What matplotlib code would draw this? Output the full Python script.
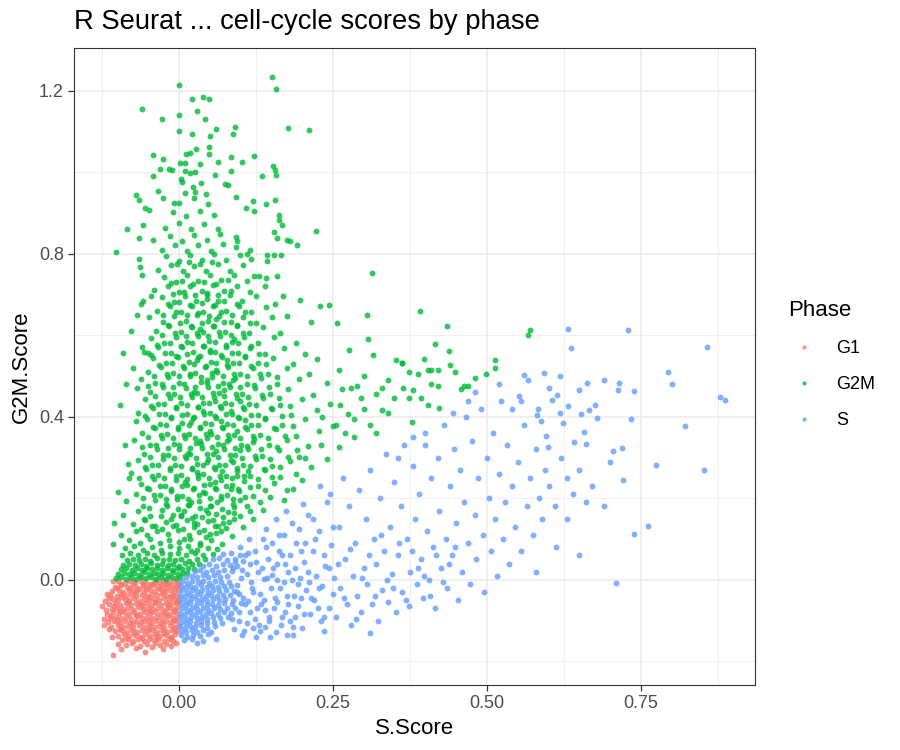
import matplotlib
matplotlib.use("Agg")
import matplotlib.pyplot as plt
from matplotlib.lines import Line2D
import numpy as np

plt.rcParams['font.family'] = ['Liberation Sans', 'DejaVu Sans']

# ---- data ----
phases = ["G1", "G2M", "S"]
phase_colors = {"G1": "#F8766D", "G2M": "#00BA38", "S": "#619CFF"}

g1_points = [
    (-0.098,-0.004),(-0.087,-0.008),(-0.079,-0.002),(-0.071,-0.007),(-0.062,-0.003),(-0.055,-0.006),(-0.047,-0.009),(-0.039,-0.002),(-0.031,-0.006),(-0.024,-0.003),(-0.016,-0.008),(-0.009,-0.004),(-0.003,-0.006),(-0.107,-0.003),
    (-0.104,-0.017),(-0.093,-0.013),(-0.084,-0.018),(-0.075,-0.012),(-0.067,-0.019),(-0.058,-0.014),(-0.050,-0.017),(-0.043,-0.012),(-0.035,-0.016),(-0.027,-0.013),(-0.020,-0.018),(-0.012,-0.014),(-0.005,-0.016),(-0.002,-0.011),
    (-0.108,-0.028),(-0.097,-0.024),(-0.090,-0.030),(-0.081,-0.025),(-0.072,-0.027),(-0.064,-0.023),(-0.056,-0.029),(-0.046,-0.025),(-0.038,-0.028),(-0.030,-0.023),(-0.022,-0.027),(-0.014,-0.024),(-0.007,-0.029),(-0.002,-0.025),
    (-0.111,-0.036),(-0.101,-0.039),(-0.094,-0.035),(-0.085,-0.038),(-0.077,-0.034),(-0.069,-0.040),(-0.060,-0.036),(-0.052,-0.039),(-0.044,-0.034),(-0.036,-0.038),(-0.028,-0.035),(-0.019,-0.040),(-0.011,-0.036),(-0.004,-0.039),
    (-0.106,-0.047),(-0.098,-0.050),(-0.088,-0.046),(-0.080,-0.049),(-0.073,-0.045),(-0.065,-0.051),(-0.057,-0.047),(-0.048,-0.050),(-0.041,-0.046),(-0.032,-0.049),(-0.024,-0.045),(-0.016,-0.051),(-0.008,-0.047),(-0.002,-0.050),
    (-0.114,-0.060),(-0.103,-0.057),(-0.095,-0.061),(-0.086,-0.058),(-0.078,-0.062),(-0.070,-0.056),(-0.061,-0.060),(-0.053,-0.057),(-0.045,-0.062),(-0.037,-0.058),(-0.029,-0.061),(-0.021,-0.056),(-0.013,-0.060),(-0.005,-0.058),
    (-0.109,-0.071),(-0.100,-0.068),(-0.091,-0.072),(-0.083,-0.069),(-0.075,-0.073),(-0.066,-0.067),(-0.058,-0.071),(-0.050,-0.068),(-0.042,-0.072),(-0.033,-0.069),(-0.025,-0.073),(-0.017,-0.068),(-0.010,-0.071),(-0.003,-0.069),
    (-0.117,-0.083),(-0.106,-0.079),(-0.097,-0.082),(-0.089,-0.078),(-0.081,-0.083),(-0.072,-0.080),(-0.063,-0.084),(-0.055,-0.079),(-0.047,-0.082),(-0.039,-0.078),(-0.031,-0.083),(-0.023,-0.080),(-0.014,-0.084),(-0.006,-0.079),
    (-0.112,-0.093),(-0.102,-0.090),(-0.093,-0.094),(-0.085,-0.091),(-0.077,-0.095),(-0.068,-0.089),(-0.060,-0.093),(-0.051,-0.090),(-0.043,-0.094),(-0.035,-0.091),(-0.027,-0.095),(-0.018,-0.089),(-0.010,-0.093),(-0.003,-0.091),
    (-0.115,-0.104),(-0.105,-0.101),(-0.096,-0.105),(-0.087,-0.102),(-0.079,-0.106),(-0.070,-0.100),(-0.062,-0.104),(-0.054,-0.101),(-0.045,-0.105),(-0.037,-0.102),(-0.029,-0.106),(-0.020,-0.100),(-0.012,-0.104),(-0.005,-0.102),
    (-0.110,-0.115),(-0.099,-0.112),(-0.091,-0.116),(-0.082,-0.113),(-0.074,-0.117),(-0.065,-0.111),(-0.057,-0.115),(-0.049,-0.112),(-0.040,-0.116),(-0.032,-0.113),(-0.024,-0.117),(-0.015,-0.111),(-0.008,-0.115),(-0.002,-0.113),
    (-0.104,-0.126),(-0.094,-0.123),(-0.086,-0.127),(-0.077,-0.124),(-0.068,-0.128),(-0.060,-0.122),(-0.052,-0.126),(-0.043,-0.123),(-0.035,-0.127),(-0.027,-0.124),(-0.019,-0.128),(-0.011,-0.122),(-0.004,-0.126),
    (-0.098,-0.137),(-0.089,-0.134),(-0.080,-0.138),(-0.071,-0.135),(-0.063,-0.139),(-0.055,-0.133),(-0.046,-0.137),(-0.038,-0.134),(-0.030,-0.138),(-0.021,-0.135),(-0.013,-0.139),(-0.006,-0.134),
    (-0.092,-0.148),(-0.083,-0.145),(-0.074,-0.149),(-0.066,-0.146),(-0.057,-0.150),(-0.049,-0.144),(-0.041,-0.148),(-0.033,-0.145),(-0.024,-0.149),(-0.016,-0.146),(-0.009,-0.150),
    (-0.120,-0.052),(-0.118,-0.074),(-0.121,-0.096),(-0.116,-0.035),(-0.113,-0.121),(-0.108,-0.140),(-0.098,-0.158),(-0.085,-0.160),
    (-0.076,-0.156),(-0.063,-0.162),(-0.052,-0.158),(-0.043,-0.165),(-0.030,-0.159),(-0.020,-0.157),(-0.012,-0.162),(-0.107,-0.185),
    (-0.054,-0.178),(-0.094,-0.170),(-0.038,-0.154),(-0.070,-0.167),(-0.124,-0.065),(-0.122,-0.110),(-0.004,-0.155),(-0.026,-0.170),
    # in-between fill of the block
    (-0.093,-0.010),(-0.075,-0.004),(-0.058,-0.010),(-0.041,-0.007),(-0.020,-0.010),(-0.006,-0.021),(-0.030,-0.020),(-0.053,-0.022),
    (-0.079,-0.021),(-0.100,-0.021),(-0.092,-0.042),(-0.070,-0.031),(-0.048,-0.042),(-0.026,-0.031),(-0.012,-0.043),(-0.105,-0.065),
    (-0.082,-0.054),(-0.060,-0.065),(-0.039,-0.054),(-0.017,-0.065),(-0.003,-0.054),(-0.095,-0.076),(-0.070,-0.087),(-0.046,-0.076),
    (-0.022,-0.087),(-0.008,-0.076),(-0.100,-0.098),(-0.074,-0.109),(-0.049,-0.098),(-0.025,-0.109),(-0.007,-0.098),(-0.095,-0.120),
    (-0.072,-0.131),(-0.048,-0.120),(-0.024,-0.131),(-0.008,-0.120),(-0.085,-0.142),(-0.060,-0.143),(-0.036,-0.141),(-0.012,-0.143),
    (-0.110,-0.088),(-0.113,-0.045),
]

g2m_points = [
    # dense strip just above the G1 block
    (-0.102,0.004),(-0.093,0.007),(-0.085,0.003),(-0.077,0.006),(-0.069,0.002),(-0.061,0.008),(-0.053,0.004),(-0.045,0.007),(-0.037,0.003),(-0.029,0.006),(-0.021,0.002),(-0.013,0.008),(-0.005,0.004),(0.002,0.006),
    (-0.098,0.015),(-0.089,0.018),(-0.081,0.014),(-0.073,0.017),(-0.065,0.013),(-0.057,0.019),(-0.049,0.015),(-0.041,0.018),(-0.033,0.014),(-0.025,0.017),(-0.017,0.013),(-0.009,0.019),(-0.001,0.015),(0.007,0.017),(0.014,0.016),
    (-0.094,0.026),(-0.085,0.029),(-0.076,0.025),(-0.068,0.028),(-0.059,0.024),(-0.051,0.030),(-0.043,0.026),(-0.035,0.029),(-0.027,0.025),(-0.019,0.028),(-0.011,0.024),(-0.003,0.030),(0.006,0.026),(0.015,0.029),(0.024,0.027),
    (-0.090,0.037),(-0.080,0.040),(-0.071,0.036),(-0.062,0.039),(-0.053,0.035),(-0.045,0.041),(-0.036,0.037),(-0.027,0.040),(-0.018,0.036),(-0.009,0.039),(0.000,0.035),(0.010,0.041),(0.022,0.038),(0.033,0.039),
    (-0.084,0.049),(-0.074,0.052),(-0.064,0.048),(-0.055,0.051),(-0.046,0.047),(-0.036,0.053),(-0.026,0.049),(-0.016,0.052),(-0.006,0.048),(0.004,0.051),(0.016,0.047),(0.030,0.052),(0.042,0.050),
    (-0.092,0.061),(-0.079,0.066),(-0.066,0.062),(-0.052,0.065),(-0.040,0.060),(-0.027,0.067),(-0.014,0.063),(-0.001,0.066),(0.012,0.061),(0.026,0.065),(0.040,0.062),(0.055,0.064),
    (-0.087,0.078),(-0.072,0.083),(-0.058,0.074),(-0.043,0.080),(-0.029,0.073),(-0.015,0.084),(0.000,0.077),(0.015,0.082),(0.030,0.074),(0.047,0.079),(0.062,0.075),
    (-0.080,0.098),(-0.063,0.091),(-0.047,0.100),(-0.031,0.090),(-0.016,0.097),(0.001,0.092),(0.018,0.101),(0.034,0.091),(0.052,0.098),(0.070,0.089),(-0.107,0.088),
    (-0.093,0.111),(-0.070,0.120),(-0.052,0.110),(-0.036,0.121),(-0.018,0.113),(-0.002,0.122),(0.016,0.109),(0.033,0.118),(0.050,0.112),(0.068,0.121),(0.087,0.108),
    (-0.075,0.136),(-0.055,0.147),(-0.038,0.133),(-0.020,0.143),(-0.004,0.135),(0.013,0.148),(0.030,0.137),(0.047,0.145),(0.064,0.132),(0.082,0.142),(0.105,0.130),
    (-0.066,0.168),(-0.047,0.157),(-0.028,0.171),(-0.010,0.159),(0.008,0.169),(0.026,0.156),(0.044,0.172),(0.061,0.161),(0.080,0.167),(0.099,0.156),(0.121,0.150),(-0.090,0.160),
    (-0.086,0.193),(-0.058,0.182),(-0.039,0.197),(-0.021,0.185),(-0.003,0.199),(0.015,0.183),(0.033,0.194),(0.051,0.180),(0.069,0.198),(0.088,0.186),(0.110,0.181),(0.136,0.172),
    (-0.070,0.210),(-0.049,0.223),(-0.030,0.207),(-0.012,0.219),(0.006,0.206),(0.024,0.225),(0.042,0.212),(0.060,0.222),(0.079,0.208),(0.098,0.218),(0.120,0.206),(0.148,0.203),(0.170,0.196),
    (-0.062,0.234),(-0.041,0.247),(-0.022,0.231),(-0.004,0.244),(0.014,0.232),(0.032,0.249),(0.050,0.236),(0.068,0.246),(0.087,0.232),(0.106,0.243),(0.128,0.230),(0.155,0.238),(0.185,0.222),
    (-0.078,0.262),(-0.053,0.272),(-0.033,0.257),(-0.014,0.269),(0.004,0.258),(0.022,0.274),(0.040,0.259),(0.058,0.271),(0.076,0.256),(0.095,0.268),(0.116,0.255),(0.140,0.270),(0.165,0.252),(0.200,0.246),
    (-0.066,0.294),(-0.044,0.281),(-0.025,0.296),(-0.006,0.283),(0.012,0.298),(0.030,0.284),(0.048,0.297),(0.066,0.281),(0.085,0.295),(0.104,0.282),(0.126,0.296),(0.152,0.279),(0.180,0.292),(0.215,0.276),
    (-0.057,0.309),(-0.036,0.322),(-0.017,0.307),(0.001,0.321),(0.019,0.308),(0.037,0.324),(0.055,0.309),(0.073,0.322),(0.092,0.306),(0.112,0.320),(0.135,0.305),(0.162,0.318),(0.195,0.302),(0.240,0.297),
    (-0.072,0.344),(-0.047,0.332),(-0.027,0.347),(-0.008,0.334),(0.010,0.349),(0.028,0.335),(0.046,0.348),(0.064,0.333),(0.082,0.346),(0.101,0.331),(0.122,0.345),(0.147,0.330),(0.175,0.344),(0.210,0.328),(0.260,0.326),
    (-0.060,0.360),(-0.039,0.372),(-0.019,0.357),(-0.001,0.371),(0.017,0.358),(0.035,0.374),(0.053,0.359),(0.071,0.372),(0.090,0.356),(0.110,0.370),(0.132,0.355),(0.158,0.369),(0.190,0.353),(0.228,0.366),(0.285,0.351),
    (-0.051,0.394),(-0.031,0.382),(-0.012,0.397),(0.006,0.384),(0.024,0.399),(0.042,0.385),(0.060,0.398),(0.078,0.383),(0.097,0.396),(0.117,0.381),(0.140,0.395),(0.168,0.380),(0.205,0.394),(0.250,0.378),(0.310,0.381),
    (-0.066,0.410),(-0.042,0.422),(-0.022,0.407),(-0.004,0.421),(0.014,0.408),(0.032,0.424),(0.050,0.409),(0.068,0.422),(0.087,0.406),(0.106,0.420),(0.128,0.405),(0.152,0.419),(0.182,0.404),(0.225,0.417),(0.275,0.406),(0.330,0.416),
    (-0.055,0.444),(-0.034,0.432),(-0.015,0.447),(0.003,0.434),(0.021,0.449),(0.039,0.435),(0.057,0.448),(0.075,0.433),(0.094,0.446),(0.114,0.431),(0.137,0.445),(0.165,0.430),(0.200,0.444),(0.245,0.432),(0.295,0.446),
    (-0.047,0.460),(-0.026,0.472),(-0.007,0.457),(0.011,0.471),(0.029,0.458),(0.047,0.474),(0.065,0.459),(0.083,0.472),(0.102,0.456),(0.123,0.470),(0.148,0.455),(0.178,0.469),(0.218,0.454),(0.265,0.468),(0.320,0.456),
    (-0.062,0.494),(-0.038,0.482),(-0.018,0.497),(0.000,0.484),(0.018,0.499),(0.036,0.485),(0.054,0.498),(0.072,0.483),(0.091,0.496),(0.111,0.481),(0.134,0.495),(0.160,0.480),(0.195,0.494),(0.240,0.482),(0.290,0.476),
    (-0.050,0.510),(-0.029,0.522),(-0.010,0.507),(0.008,0.521),(0.026,0.508),(0.044,0.524),(0.062,0.509),(0.080,0.522),(0.099,0.506),(0.120,0.520),(0.145,0.505),(0.175,0.519),(0.212,0.504),(0.260,0.516),
    (-0.042,0.544),(-0.021,0.532),(-0.002,0.547),(0.016,0.534),(0.034,0.549),(0.052,0.535),(0.070,0.548),(0.088,0.533),(0.107,0.546),(0.128,0.531),(0.153,0.545),(0.185,0.530),(0.225,0.542),
    (-0.056,0.560),(-0.033,0.572),(-0.013,0.557),(0.005,0.571),(0.023,0.558),(0.041,0.574),(0.059,0.559),(0.077,0.572),(0.096,0.556),(0.116,0.570),(0.140,0.555),(0.170,0.569),(0.205,0.554),
    (-0.045,0.594),(-0.024,0.582),(-0.005,0.597),(0.013,0.584),(0.031,0.599),(0.049,0.585),(0.067,0.598),(0.086,0.583),(0.106,0.596),(0.128,0.581),(0.155,0.595),(0.190,0.580),
    (-0.037,0.610),(-0.016,0.622),(0.003,0.607),(0.021,0.621),(0.039,0.608),(0.057,0.624),(0.075,0.609),(0.094,0.622),(0.114,0.606),(0.137,0.620),(0.165,0.605),
    (-0.048,0.644),(-0.026,0.632),(-0.007,0.647),(0.011,0.634),(0.029,0.649),(0.047,0.635),(0.065,0.648),(0.084,0.633),(0.104,0.646),(0.126,0.631),(0.152,0.645),
    (-0.035,0.660),(-0.014,0.672),(0.004,0.657),(0.022,0.671),(0.040,0.658),(0.058,0.674),(0.077,0.659),(0.097,0.672),(0.118,0.656),(0.142,0.670),
    (-0.028,0.694),(-0.008,0.682),(0.010,0.697),(0.028,0.684),(0.046,0.699),(0.064,0.685),(0.083,0.698),(0.103,0.683),(0.125,0.696),
    (-0.040,0.710),(-0.018,0.722),(0.001,0.707),(0.019,0.721),(0.037,0.708),(0.055,0.724),(0.074,0.709),(0.094,0.722),(0.116,0.706),(0.140,0.720),
    (-0.024,0.744),(-0.004,0.732),(0.014,0.747),(0.032,0.734),(0.050,0.749),(0.069,0.735),(0.089,0.748),(0.110,0.733),
    (-0.033,0.760),(-0.012,0.772),(0.007,0.757),(0.025,0.771),(0.044,0.758),(0.063,0.774),(0.083,0.759),(0.105,0.772),
    (-0.020,0.794),(0.000,0.782),(0.019,0.797),(0.038,0.784),(0.057,0.799),(0.077,0.785),(0.099,0.798),
    (-0.028,0.810),(-0.006,0.822),(0.013,0.807),(0.032,0.821),(0.052,0.808),(0.072,0.824),
    (-0.015,0.844),(0.005,0.832),(0.025,0.847),(0.046,0.834),(0.067,0.849),
    (-0.022,0.864),(0.000,0.876),(0.020,0.861),(0.041,0.874),(0.064,0.862),
    (-0.010,0.902),(0.012,0.894),(0.034,0.906),(0.057,0.896),
    (0.000,0.924),(0.024,0.936),(0.048,0.921),
    # extra points filling the dense core
    (-0.061,0.125),(-0.044,0.131),(-0.027,0.124),(-0.010,0.133),(0.007,0.126),(0.024,0.130),(0.041,0.123),(0.058,0.132),(0.076,0.127),
    (-0.057,0.150),(-0.029,0.156),(-0.012,0.149),(0.004,0.157),(0.021,0.151),(0.038,0.155),(0.055,0.148),(0.072,0.154),(0.090,0.150),
    (-0.048,0.176),(-0.019,0.181),(-0.001,0.174),(0.017,0.183),(0.035,0.177),(0.052,0.180),(0.070,0.173),(0.090,0.179),(0.115,0.170),
    (-0.058,0.201),(-0.040,0.207),(-0.021,0.199),(-0.003,0.205),(0.015,0.198),(0.033,0.208),(0.051,0.201),(0.069,0.206),(0.088,0.199),(0.108,0.204),(0.132,0.190),
    (-0.052,0.226),(-0.031,0.231),(-0.013,0.224),(0.005,0.230),(0.023,0.223),(0.041,0.233),(0.059,0.226),(0.077,0.231),(0.096,0.224),(0.116,0.229),(0.140,0.220),
    (-0.065,0.250),(-0.043,0.256),(-0.024,0.249),(-0.005,0.255),(0.013,0.248),(0.031,0.258),(0.049,0.251),(0.067,0.256),(0.086,0.249),(0.106,0.254),(0.128,0.247),(0.152,0.252),
    (-0.055,0.276),(-0.034,0.281),(-0.015,0.274),(0.003,0.280),(0.021,0.273),(0.039,0.283),(0.057,0.276),(0.075,0.281),(0.094,0.274),(0.115,0.279),(0.138,0.272),(0.165,0.277),
    (-0.046,0.301),(-0.026,0.306),(-0.008,0.299),(0.010,0.305),(0.028,0.298),(0.046,0.308),(0.064,0.301),(0.083,0.306),(0.102,0.299),(0.123,0.304),(0.148,0.297),(0.178,0.302),
    (-0.060,0.326),(-0.037,0.331),(-0.018,0.324),(0.000,0.330),(0.018,0.323),(0.036,0.333),(0.054,0.326),(0.072,0.331),(0.091,0.324),(0.111,0.329),(0.134,0.322),(0.160,0.327),(0.192,0.318),
    (-0.050,0.351),(-0.029,0.356),(-0.010,0.349),(0.008,0.355),(0.026,0.348),(0.044,0.358),(0.062,0.351),(0.080,0.356),(0.099,0.349),(0.120,0.354),(0.145,0.347),(0.173,0.352),
    (-0.042,0.376),(-0.021,0.381),(-0.002,0.374),(0.016,0.380),(0.034,0.373),(0.052,0.383),(0.070,0.376),(0.088,0.381),(0.107,0.374),(0.128,0.379),(0.154,0.372),(0.185,0.377),
    (-0.055,0.401),(-0.032,0.406),(-0.013,0.399),(0.005,0.405),(0.023,0.398),(0.041,0.408),(0.059,0.401),(0.077,0.406),(0.096,0.399),(0.117,0.404),(0.140,0.397),(0.168,0.402),
    (-0.045,0.426),(-0.024,0.431),(-0.005,0.424),(0.013,0.430),(0.031,0.423),(0.049,0.433),(0.067,0.426),(0.085,0.431),(0.104,0.424),(0.126,0.429),(0.150,0.422),(0.180,0.427),
    (-0.038,0.451),(-0.017,0.456),(0.002,0.449),(0.020,0.455),(0.038,0.448),(0.056,0.458),(0.074,0.451),(0.093,0.456),(0.112,0.449),(0.135,0.454),(0.162,0.447),
    (-0.050,0.476),(-0.028,0.481),(-0.009,0.474),(0.009,0.480),(0.027,0.473),(0.045,0.483),(0.063,0.476),(0.081,0.481),(0.100,0.474),(0.122,0.479),(0.147,0.472),
    (-0.040,0.501),(-0.019,0.506),(0.000,0.499),(0.018,0.505),(0.036,0.498),(0.054,0.508),(0.072,0.501),(0.090,0.506),(0.110,0.499),(0.132,0.504),(0.160,0.497),
    (-0.032,0.526),(-0.011,0.531),(0.007,0.524),(0.025,0.530),(0.043,0.523),(0.061,0.533),(0.079,0.526),(0.098,0.531),(0.118,0.524),(0.142,0.529),
    (-0.045,0.551),(-0.023,0.556),(-0.004,0.549),(0.014,0.555),(0.032,0.548),(0.050,0.558),(0.068,0.551),(0.087,0.556),(0.107,0.549),(0.130,0.554),
    (-0.035,0.576),(-0.014,0.581),(0.004,0.574),(0.022,0.580),(0.040,0.573),(0.058,0.583),(0.076,0.576),(0.096,0.581),(0.117,0.574),
    (-0.027,0.601),(-0.006,0.606),(0.012,0.599),(0.030,0.605),(0.048,0.598),(0.066,0.608),(0.085,0.601),(0.105,0.606),
    (-0.017,0.626),(0.002,0.631),(0.020,0.624),(0.038,0.630),(0.056,0.623),(0.074,0.633),(0.094,0.626),(0.115,0.631),
    (-0.025,0.651),(-0.005,0.656),(0.013,0.649),(0.031,0.655),(0.049,0.648),(0.068,0.658),(0.087,0.651),(0.108,0.656),
    (-0.018,0.676),(0.001,0.681),(0.019,0.674),(0.037,0.680),(0.055,0.673),(0.074,0.683),(0.094,0.676),
    (-0.010,0.701),(0.009,0.706),(0.027,0.699),(0.045,0.705),(0.064,0.698),(0.084,0.708),
    (-0.013,0.728),(0.005,0.733),(0.023,0.726),(0.041,0.732),(0.060,0.725),(0.080,0.735),
    (-0.003,0.776),(0.016,0.781),(0.035,0.774),(0.054,0.780),
    (0.020,0.070),(0.035,0.085),(0.008,0.100),(0.044,0.105),(0.060,0.115),(0.025,0.140),(0.072,0.140),(0.003,0.160),
    (0.048,0.165),(0.090,0.165),(0.020,0.190),(0.062,0.192),(0.100,0.195),(0.040,0.215),(0.085,0.222),(0.010,0.240),
    (0.058,0.240),(0.095,0.255),(0.030,0.265),(0.070,0.268),(0.112,0.268),(0.045,0.290),(0.088,0.290),(0.015,0.312),
    (0.060,0.316),(0.100,0.318),(0.035,0.340),(0.078,0.340),(0.120,0.338),(0.050,0.365),(0.095,0.365),(0.020,0.388),
    (0.068,0.390),(0.108,0.392),(0.040,0.414),(0.085,0.415),(0.058,0.440),(0.100,0.440),(0.025,0.462),(0.073,0.465),
    (0.045,0.490),(0.088,0.490),(0.060,0.515),(0.030,0.540),(0.078,0.540),(0.050,0.565),(0.090,0.590),(0.035,0.615),
    (0.060,0.640),(0.045,0.690),
    # sparse top and left, read point by point
    (0.151,1.234),(0.157,1.205),(0.000,1.215),(-0.060,1.156),(-0.028,1.131),(0.021,1.180),(0.039,1.185),(0.049,1.180),
    (0.029,1.151),(0.042,1.131),(0.000,1.141),(0.000,1.102),(0.177,1.109),(0.211,1.104),(0.060,1.107),(0.091,1.112),
    (0.088,1.094),(0.050,1.090),(0.021,1.094),(0.049,1.063),(0.049,1.045),(0.028,1.058),(0.019,1.048),(0.011,1.045),
    (-0.042,1.043),(-0.026,1.033),(0.122,1.040),(0.084,1.038),(0.102,1.026),(0.063,1.026),(0.153,1.016),(0.156,1.006),
    (0.157,0.994),(0.135,0.991),(0.084,1.004),(0.058,0.994),(-0.042,0.991),(0.034,1.021),(0.002,1.023),(0.010,1.023),
    (-0.011,1.006),(-0.016,1.009),(-0.031,1.009),(0.010,1.004),(0.018,0.999),(0.026,1.001),(0.036,0.974),(0.003,0.984),
    (0.006,0.977),(0.023,0.964),(0.075,0.972),(0.080,0.969),(0.044,0.947),(-0.070,0.945),(-0.065,0.933),(-0.034,0.955),
    (-0.026,0.937),(-0.008,0.925),(0.010,0.950),(0.026,0.952),(0.093,0.940),(0.120,0.930),(0.141,0.923),(0.156,0.933),
    (0.109,0.913),(0.122,0.906),(0.162,0.896),(0.162,0.883),(0.167,0.871),(0.222,0.856),(0.154,0.854),(0.159,0.839),
    (0.175,0.834),(0.180,0.832),(0.192,0.822),(-0.102,0.805),(-0.084,0.861),(-0.065,0.839),(-0.058,0.871),(-0.054,0.913),
    (-0.049,0.908),(-0.042,0.834),(-0.065,0.788),(-0.063,0.768),(-0.060,0.748),(-0.067,0.650),(-0.062,0.677),(-0.058,0.685),
    (-0.091,0.557),(-0.060,0.572),(-0.045,0.697),(-0.050,0.557),(0.313,0.753),(0.305,0.650),(0.307,0.591),(0.315,0.552),
    (0.352,0.540),(0.362,0.532),(0.276,0.564),(0.256,0.631),(0.243,0.675),(0.229,0.672),(0.214,0.633),(0.196,0.687),
    (0.175,0.648),(0.169,0.697),(0.156,0.677),(0.159,0.746),(0.141,0.741),(0.166,0.798),(0.154,0.798),(0.143,0.798),
    (0.143,0.783),(0.122,0.746),(0.130,0.746),(0.115,0.810),(0.110,0.800),(0.118,0.788),(0.093,0.817),(0.094,0.832),
    (0.093,0.842),(-0.078,0.610),(-0.085,0.480),(-0.095,0.430),(-0.070,0.390),(-0.088,0.330),(-0.080,0.250),(-0.098,0.215),
    (-0.105,0.140),(-0.082,0.285),(-0.074,0.520),(-0.068,0.470),
    # tail to the right, above the diagonal
    (0.391,0.660),(0.435,0.623),(0.570,0.613),(0.567,0.602),(0.416,0.579),(0.438,0.562),(0.398,0.542),(0.513,0.540),
    (0.513,0.520),(0.440,0.527),(0.404,0.516),(0.409,0.515),(0.420,0.514),(0.373,0.510),(0.388,0.504),(0.448,0.510),
    (0.498,0.505),(0.480,0.496),(0.409,0.481),(0.420,0.476),(0.458,0.469),(0.463,0.476),(0.469,0.476),(0.364,0.471),
    (0.380,0.466),(0.373,0.447),(0.393,0.447),(0.404,0.430),(0.422,0.422),(0.378,0.388),(0.362,0.532),(0.340,0.490),
    (0.330,0.470),(0.350,0.445),(0.300,0.500),(0.280,0.470),(0.262,0.430),(0.300,0.420),(0.340,0.410),(0.255,0.380),
    (0.232,0.400),(0.270,0.360),(0.230,0.330),(0.205,0.300),(0.190,0.260),(0.175,0.220),(0.285,0.395),(0.320,0.360),
]

s_points = [
    # dense block right of G1
    (0.006,-0.004),(0.014,-0.007),(0.022,-0.003),(0.031,-0.006),(0.040,-0.002),(0.049,-0.007),(0.058,-0.004),(0.068,-0.006),
    (0.012,0.007),(0.021,0.010),(0.030,0.006),(0.039,0.011),(0.048,0.008),(0.057,0.012),(0.067,0.007),(0.078,0.010),
    (0.026,0.021),(0.035,0.024),(0.044,0.020),(0.054,0.023),(0.063,0.019),(0.074,0.025),(0.086,0.021),
    (0.040,0.035),(0.049,0.038),(0.060,0.034),(0.071,0.039),(0.083,0.036),(0.095,0.033),
    (0.056,0.050),(0.066,0.053),(0.079,0.048),(0.092,0.052),(0.104,0.047),
    (0.071,0.064),(0.085,0.067),(0.099,0.062),(0.113,0.066),
    (0.003,-0.015),(0.011,-0.018),(0.019,-0.014),(0.027,-0.017),(0.036,-0.013),(0.045,-0.018),(0.054,-0.015),(0.063,-0.017),(0.073,-0.014),(0.084,-0.016),
    (0.005,-0.026),(0.013,-0.029),(0.021,-0.025),(0.030,-0.028),(0.038,-0.024),(0.047,-0.029),(0.056,-0.026),(0.066,-0.028),(0.077,-0.025),(0.089,-0.027),
    (0.002,-0.037),(0.010,-0.040),(0.018,-0.036),(0.027,-0.039),(0.035,-0.035),(0.044,-0.040),(0.053,-0.037),(0.062,-0.039),(0.072,-0.036),(0.083,-0.038),(0.097,-0.035),
    (0.004,-0.048),(0.012,-0.051),(0.020,-0.047),(0.029,-0.050),(0.037,-0.046),(0.046,-0.051),(0.055,-0.048),(0.065,-0.050),(0.075,-0.047),(0.088,-0.049),
    (0.003,-0.059),(0.011,-0.062),(0.019,-0.058),(0.028,-0.061),(0.036,-0.057),(0.045,-0.062),(0.054,-0.059),(0.063,-0.061),(0.074,-0.058),(0.086,-0.060),(0.101,-0.057),
    (0.005,-0.070),(0.013,-0.073),(0.021,-0.069),(0.030,-0.072),(0.039,-0.068),(0.048,-0.073),(0.057,-0.070),(0.067,-0.072),(0.079,-0.069),
    (0.002,-0.081),(0.010,-0.084),(0.018,-0.080),(0.027,-0.083),(0.035,-0.079),(0.044,-0.084),(0.053,-0.081),(0.063,-0.083),(0.073,-0.080),(0.085,-0.082),
    (0.004,-0.092),(0.012,-0.095),(0.020,-0.091),(0.029,-0.094),(0.037,-0.090),(0.046,-0.095),(0.056,-0.092),(0.067,-0.094),(0.080,-0.091),
    (0.003,-0.103),(0.011,-0.106),(0.019,-0.102),(0.028,-0.105),(0.036,-0.101),(0.046,-0.106),(0.057,-0.103),(0.070,-0.105),
    (0.002,-0.114),(0.010,-0.117),(0.018,-0.113),(0.027,-0.116),(0.036,-0.112),(0.046,-0.117),(0.059,-0.114),
    (0.004,-0.125),(0.012,-0.128),(0.021,-0.124),(0.030,-0.127),(0.040,-0.123),(0.052,-0.128),
    (0.003,-0.136),(0.013,-0.139),(0.023,-0.135),(0.034,-0.138),(0.047,-0.134),
    (0.008,-0.148),(0.022,-0.146),(0.039,-0.150),(0.060,-0.144),(0.030,-0.155),
    # spread between 0.08 and 0.25
    (0.095,-0.012),(0.104,-0.045),(0.110,0.015),(0.116,-0.078),(0.121,-0.030),(0.125,0.045),(0.130,-0.110),(0.134,-0.060),
    (0.138,0.002),(0.141,0.080),(0.146,-0.090),(0.150,-0.020),(0.153,0.030),(0.157,-0.128),(0.160,-0.055),(0.163,0.110),
    (0.167,0.060),(0.170,-0.005),(0.173,-0.080),(0.177,0.020),(0.180,-0.100),(0.183,0.140),(0.187,-0.040),(0.190,0.090),
    (0.193,-0.065),(0.197,0.005),(0.200,-0.118),(0.203,0.045),(0.207,-0.025),(0.210,0.160),(0.213,-0.085),(0.217,0.070),
    (0.220,-0.050),(0.223,0.010),(0.227,0.120),(0.230,-0.100),(0.233,-0.015),(0.237,0.035),(0.240,0.190),(0.243,-0.070),
    (0.247,0.085),(0.250,-0.035),(0.088,0.030),(0.092,-0.070),(0.097,-0.100),(0.101,0.005),(0.106,-0.125),(0.108,0.060),
    (0.112,-0.052),(0.118,-0.005),(0.123,-0.095),(0.128,0.020),(0.132,-0.035),(0.136,0.100),(0.140,-0.075),(0.144,0.050),
    (0.148,-0.140),(0.152,0.012),(0.156,-0.045),(0.162,0.070),(0.166,-0.110),(0.172,0.040),(0.178,-0.060),(0.184,0.000),
    (0.188,-0.090),(0.195,0.125),(0.199,-0.045),(0.205,0.090),(0.212,-0.005),(0.218,0.150),(0.226,-0.070),(0.235,0.060),
    (0.245,0.210),(0.252,0.005),(0.090,-0.120),(0.099,0.080),(0.114,0.100),(0.126,-0.140),(0.142,0.125),(0.158,0.150),
    (0.174,0.170),(0.186,-0.135),(0.202,0.185),(0.229,0.230),
    (0.082,-0.005),(0.086,-0.095),(0.091,0.045),(0.094,-0.030),(0.098,-0.080),(0.103,0.025),(0.107,-0.060),(0.111,-0.105),
    (0.115,0.040),(0.119,-0.020),(0.124,0.070),(0.127,-0.070),(0.131,-0.125),(0.135,0.030),(0.139,-0.050),(0.143,0.005),
    (0.147,-0.100),(0.151,0.090),(0.155,-0.070),(0.159,0.040),(0.164,-0.020),(0.168,-0.090),(0.171,0.110),(0.176,-0.040),
    (0.181,0.060),(0.185,-0.115),(0.189,0.030),(0.194,-0.010),(0.198,0.070),(0.204,-0.085),(0.209,0.020),(0.215,-0.045),
    (0.221,0.100),(0.228,-0.020),(0.236,-0.090),(0.244,0.030),(0.251,0.130),(0.120,-0.118),(0.102,-0.135),(0.140,-0.115),
    (0.176,-0.135),(0.160,0.000),
    # spread between 0.25 and 0.67
    (0.255,-0.090),(0.260,0.130),(0.262,-0.020),(0.266,0.250),(0.270,0.050),(0.273,-0.060),(0.276,0.180),(0.280,-0.110),
    (0.283,0.010),(0.286,0.090),(0.290,-0.040),(0.293,0.220),(0.296,-0.080),(0.300,0.030),(0.303,0.150),(0.306,-0.010),
    (0.310,0.270),(0.313,-0.060),(0.316,0.100),(0.320,0.040),(0.323,-0.100),(0.326,0.200),(0.330,-0.025),(0.333,0.070),
    (0.336,0.310),(0.340,-0.055),(0.343,0.130),(0.346,0.015),(0.350,0.240),(0.353,-0.080),(0.356,0.060),(0.360,0.180),
    (0.363,-0.030),(0.366,0.330),(0.370,0.100),(0.373,-0.065),(0.376,0.020),(0.380,0.280),(0.383,0.150),(0.386,-0.010),
    (0.390,0.210),(0.393,0.050),(0.396,-0.045),(0.400,0.360),(0.403,0.120),(0.406,0.000),(0.410,0.250),(0.413,0.080),
    (0.416,-0.070),(0.420,0.300),(0.423,0.170),(0.426,0.030),(0.430,0.380),(0.433,0.100),(0.436,-0.020),(0.440,0.230),
    (0.443,0.060),(0.446,0.320),(0.450,0.140),(0.453,-0.050),(0.456,0.270),(0.460,0.020),(0.463,0.190),(0.466,0.400),
    (0.470,0.090),(0.473,-0.010),(0.476,0.340),(0.480,0.160),(0.483,0.050),(0.486,0.250),(0.490,0.420),(0.493,0.110),
    (0.496,-0.030),(0.500,0.300),(0.503,0.200),(0.506,0.070),(0.510,0.360),(0.513,0.150),(0.516,0.010),(0.520,0.260),
    (0.523,0.440),(0.526,0.100),(0.530,0.190),(0.533,0.330),(0.536,0.040),(0.540,0.230),(0.545,0.130),(0.550,0.290),
    (0.555,0.070),(0.560,0.380),(0.565,0.180),(0.570,0.250),(0.575,0.110),(0.580,0.320),(0.585,0.200),(0.590,0.150),
    (0.595,0.270),(0.600,0.230),(0.610,0.180),(0.620,0.300),(0.630,0.250),(0.640,0.210),(0.650,0.270),(0.660,0.190),
    (0.670,0.230),(0.258,0.040),(0.268,-0.045),(0.278,0.075),(0.288,-0.095),(0.298,0.005),(0.308,0.060),(0.318,-0.040),
    (0.328,0.110),(0.338,0.000),(0.348,-0.020),(0.358,0.090),(0.368,-0.050),(0.378,0.070),(0.388,0.030),(0.398,0.010),
    (0.408,-0.040),(0.418,0.060),(0.428,-0.005),(0.438,0.040),(0.448,0.080),
    # sparse outer points, read point by point
    (0.632,0.616),(0.729,0.613),(0.857,0.572),(0.636,0.569),(0.794,0.509),(0.800,0.481),(0.878,0.449),(0.886,0.442),
    (0.821,0.378),(0.774,0.282),(0.852,0.270),(0.734,0.395),(0.720,0.324),(0.705,0.317),(0.699,0.289),(0.721,0.245),
    (0.761,0.133),(0.739,0.113),(0.710,-0.007),(0.690,0.491),(0.714,0.483),(0.713,0.467),(0.739,0.464),(0.676,0.429),
    (0.678,0.398),(0.662,0.483),(0.649,0.466),(0.665,0.417),(0.653,0.407),(0.657,0.363),(0.661,0.334),(0.641,0.339),
    (0.631,0.427),(0.619,0.410),(0.624,0.385),(0.618,0.501),(0.614,0.454),(0.606,0.441),(0.601,0.471),(0.593,0.508),
    (0.567,0.491),(0.560,0.503),(0.552,0.451),(0.555,0.439),(0.540,0.420),(0.583,0.420),(0.581,0.405),(0.588,0.390),
    (0.599,0.326),(0.596,0.353),(0.630,0.150),(0.612,0.080),(0.580,0.020),(0.650,0.060),(0.690,0.180),(0.470,0.440),
    (0.445,0.410),(0.400,0.330),(0.380,0.350),(0.520,0.480),(0.480,0.460),(0.355,0.300),(0.235,-0.125),(0.310,-0.130),
]

# ---- plot ----
fig = plt.figure(figsize=(9, 7.5), dpi=100)
ax = fig.add_axes([74/900, 1-685/750, (755-74)/900, (685-48)/750])

for ph, pts in zip(phases, [g1_points, g2m_points, s_points]):
    arr = np.array(pts)
    ax.scatter(arr[:, 0], arr[:, 1], s=18, color=phase_colors[ph], alpha=0.8,
               linewidths=0, zorder=3)

ax.set_xlim(-0.170, 0.935)
ax.set_ylim(-0.258, 1.305)

ax.set_xticks([0.00, 0.25, 0.50, 0.75])
ax.set_xticklabels(["0.00", "0.25", "0.50", "0.75"])
ax.set_yticks([0.0, 0.4, 0.8, 1.2])
ax.set_yticklabels(["0.0", "0.4", "0.8", "1.2"])
ax.set_xticks([-0.125, 0.125, 0.375, 0.625, 0.875], minor=True)
ax.set_yticks([-0.2, 0.2, 0.6, 1.0], minor=True)

ax.grid(True, which='major', color='#EBEBEB', linewidth=1.1, zorder=0)
ax.grid(True, which='minor', color='#EBEBEB', linewidth=0.55, zorder=0)
ax.set_axisbelow(True)
ax.tick_params(which='major', length=4.2, width=0.9, color='#333333',
               labelcolor='#4D4D4D', labelsize=13, pad=3)
ax.tick_params(which='minor', length=0)
for sp in ax.spines.values():
    sp.set_color('#333333')
    sp.set_linewidth(0.8)

ax.set_xlabel("S.Score", fontsize=16, color='black', labelpad=4)
ax.set_ylabel("G2M.Score", fontsize=16, color='black', labelpad=5)
fig.text(74/900, 1-22/750, "R Seurat ... cell-cycle scores by phase",
         fontsize=19.7, ha='left', va='center')

handles = [Line2D([0], [0], marker='o', linestyle='', markersize=3,
                  markerfacecolor=phase_colors[ph], markeredgewidth=0, alpha=0.8)
           for ph in phases]
leg = fig.legend(handles, phases, title="Phase", loc='upper left',
                 bbox_to_anchor=(788/900, 1-300/750), frameon=False,
                 fontsize=13, title_fontsize=16, labelspacing=1.06,
                 handletextpad=0.9, handlelength=1.78, borderaxespad=0,
                 borderpad=0)
leg._legend_box.align = "left"

fig.savefig("out.png", dpi=100, facecolor='white')
